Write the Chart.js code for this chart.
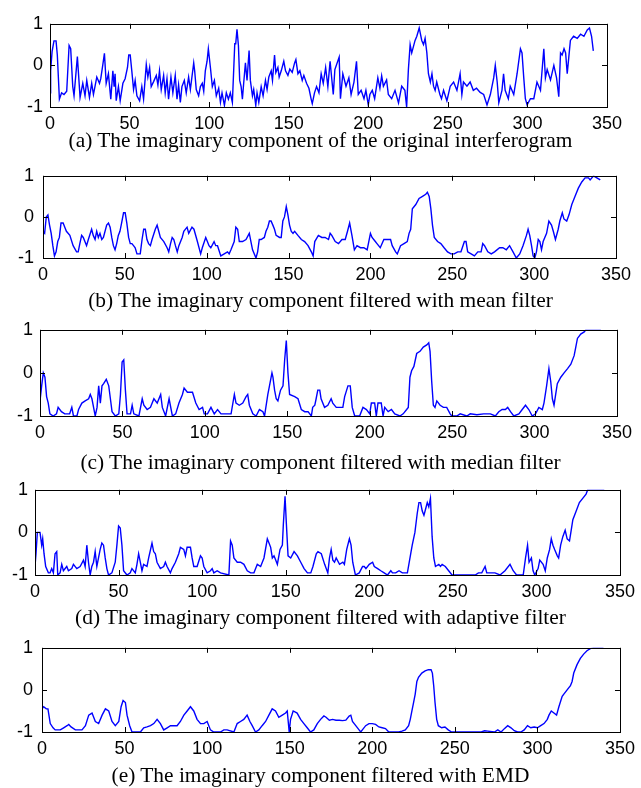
<!DOCTYPE html>
<html>
<head>
<meta charset="utf-8">
<script src="https://cdn.jsdelivr.net/npm/chart.js@4.4.1/dist/chart.umd.min.js"></script>
<style>
html, body { margin: 0; padding: 0; background: #fff; }
#page { position: relative; width: 641px; height: 788px; overflow: hidden; }
.caption { position: absolute; left: 0; width: 641px; text-align: center; line-height: 24px;
  font-family: "Liberation Serif", "Times New Roman", serif; font-size: 21.4px; color: #000; white-space: nowrap; }
</style>
</head>
<body>
<div id="page"></div>
<script>
// tick values shared by all five panels
const xTicks = [0, 50, 100, 150, 200, 250, 300, 350];
const yTicks = [-1, 0, 1];

const captions = [
    '(a) The imaginary component of the original interferogram',
    '(b) The imaginary component filtered with mean filter',
    '(c) The imaginary component filtered with median filter',
    '(d) The imaginary component filtered with adaptive filter',
    '(e) The imaginary component filtered with EMD'
];

// [sample index, value]
const seriesOriginal = [
    [0,-0.66],[0.4,-0.13],[1.3,0.33],[2.5,0.59],[3.8,0.59],[4.6,0.25],[5.9,-0.81],[7.3,-0.66],[8.8,-0.7],[10.5,-0.62],
    [12,0.48],[13,0.4],[14.3,-0.51],[15.1,-0.73],[17.2,0.21],[18.9,-0.77],[20.6,-0.43],[22,-0.73],[23.1,-0.36],[24.8,-0.77],
    [26.2,-0.43],[27.3,-0.7],[29.4,-0.28],[31.1,-0.43],[31.9,-0.32],[33.2,0.02],[34.2,0.29],[35.3,-0.43],[36.7,-0.2],[38.2,-0.81],
    [39.5,-0.13],[40.3,-0.51],[40.9,-0.2],[41.6,-0.85],[43,-0.51],[44.1,-0.85],[45.8,-0.43],[47.2,-0.32],[48.7,-0.05],[49.5,0.25],
    [50.4,0.25],[51.4,-0.13],[52.5,-0.58],[53.5,-0.36],[54.6,-0.73],[56.3,-0.85],[57.7,-0.51],[58.8,-0.81],[60.5,0.02],[61.5,-0.28],
    [62.6,-0.05],[63.6,-0.51],[65.1,-0.39],[66.8,-0.24],[67.8,-0.47],[68.8,-0.13],[69.9,-0.58],[71.4,-0.24],[72.4,-0.66],[73.5,-0.32],
    [74.5,-0.81],[76,-0.28],[77.2,-0.66],[78.7,-0.24],[79.8,-0.81],[80.8,-0.47],[81.9,-0.89],[82.9,-0.51],[84.4,-0.36],[85.6,-0.66],
    [87.1,-0.28],[88.2,-0.58],[90.3,0.06],[90.9,-0.13],[91.9,-0.58],[93.4,-0.73],[94.5,-0.51],[95.7,-0.43],[96.6,-0.62],[97.6,-0.13],
    [98.7,0.1],[99.5,0.4],[100.8,-0.05],[102,-0.51],[103.3,-0.36],[104.5,-0.73],[106,-0.55],[107.1,-0.89],[108.1,-0.66],[109.6,-0.96],
    [110.8,-0.66],[112.1,-0.81],[113.3,-0.66],[114.6,-0.89],[116.1,0.52],[116.7,0.52],[117.5,0.87],[118.4,0.48],[119.2,-0.36],[120.1,-0.51],
    [120.9,-0.81],[121.7,-0.43],[122.8,0.06],[123.8,-0.36],[125.1,0.36],[125.9,-0.36],[127.2,-0.73],[128,-0.58],[129.3,-0.96],[130.1,-0.66],
    [131.2,-0.89],[132.7,-0.51],[133.9,-0.73],[135.4,-0.36],[136.4,-0.58],[137.5,-0.28],[139,-0.13],[139.8,-0.36],[141.1,0.25],[141.9,-0.17],
    [143.2,-0.05],[144,-0.28],[145.3,-0.13],[146.9,0.1],[148,-0.13],[149.5,-0.24],[150.7,-0.09],[152.2,-0.17],[153.7,0.06],[154.5,0.14],
    [155.8,-0.2],[157,-0.13],[158.5,-0.36],[159.5,-0.24],[161.2,-0.43],[162.7,-0.55],[164.1,-0.81],[164.8,-0.92],[166.2,-0.66],[167.5,-0.51],
    [169,-0.66],[170.4,-0.2],[171.7,-0.43],[173.2,-0.05],[174.6,-0.51],[176,0.1],[178,-0.7],[179,-0.1],[181.7,0.2],[182.5,-0.8],
    [184,-0.2],[186,-0.5],[187.8,-0.3],[189.2,-0.7],[191,-0.4],[192.6,0.1],[193.7,-0.7],[195.5,-0.6],[197.3,-0.8],[198.5,-0.6],
    [200,-0.95],[201,-0.7],[202.5,-0.6],[204,-0.8],[206,-0.3],[207.3,-0.55],[208.4,-0.25],[209.5,-0.5],[211.5,-0.35],[212.6,-0.7],
    [214.7,-0.8],[216.8,-0.6],[219,-0.9],[221,-0.5],[223,-0.6],[224.1,-1],[225.2,-0.1],[226.3,0.5],[227.3,0.3],[229.4,0.6],
    [230.5,0.7],[232,0.9],[233.6,0.6],[234.7,0.5],[235.7,0.65],[236.8,0.3],[237.8,-0.2],[239,-0.4],[240,-0.2],[241,-0.5],
    [242,-0.6],[243,-0.4],[245,-0.7],[246,-0.8],[247.3,-0.6],[249.4,-0.85],[251.5,-0.5],[253.6,-0.4],[255.7,-0.6],[257.7,-0.2],
    [258.8,-0.7],[259.8,-0.4],[262,-0.5],[264,-0.4],[266,-0.6],[268,-0.55],[270.3,-0.65],[272.5,-0.7],[274.6,-0.95],[276.7,-0.7],
    [278.8,-0.3],[279.8,0],[281,-0.4],[282,-0.9],[284,-0.6],[285,-0.2],[286,-0.6],[288,-0.8],[289.2,-0.5],[291.4,-0.7],
    [293.5,-0.2],[295.6,0.4],[296.6,0.3],[297.7,-0.3],[298.7,-0.8],[299.8,-0.95],[301.9,-0.8],[304,-0.8],[306,-0.4],[308.2,-0.6],
    [310.3,0.4],[311.3,-0.3],[312.4,-0.1],[314.5,-0.35],[316.6,0],[318.3,-0.3],[319.7,-0.75],[320.8,0.3],[321.8,0.25],[323,0.4],
    [324,0.3],[325,-0.2],[326,0.2],[327,0.6],[329,0.7],[331.3,0.65],[333.4,0.75],[335.5,0.7],[337.6,0.85],[339,0.9],
    [340.3,0.7],[341.4,0.35]
];

const seriesMean = [
    [0,-0.35],[1,-0.4],[2,0],[3,0.05],[4,-0.2],[5,-0.4],[6,-0.7],[7,-0.95],[8,-0.85],[9,-0.6],
    [10,-0.5],[11,-0.15],[12.3,-0.15],[13.3,-0.25],[14.3,-0.35],[16.4,-0.45],[18.4,-0.7],[20.5,-0.85],[21.5,-0.85],[22.5,-0.65],
    [23.6,-0.45],[24.6,-0.5],[25.6,-0.6],[26.6,-0.7],[27.7,-0.55],[29.7,-0.3],[30.7,-0.45],[31.8,-0.55],[32.8,-0.35],[33.8,-0.5],
    [34.8,-0.4],[35.9,-0.55],[36.9,-0.5],[38.9,-0.2],[40,-0.15],[41,-0.25],[42,-0.5],[43,-0.7],[44,-0.8],[45,-0.65],
    [46,-0.45],[47,-0.35],[48,-0.15],[49.2,0.1],[50.2,0.1],[51.2,-0.15],[52.3,-0.5],[53.3,-0.65],[54.3,-0.65],[55.3,-0.7],
    [56.3,-0.75],[57.4,-0.9],[59.4,-0.9],[60.5,-0.55],[61.5,-0.3],[62.5,-0.3],[63.5,-0.55],[64.5,-0.65],[65.6,-0.7],[66.6,-0.55],
    [68.6,-0.3],[69.7,-0.2],[70.7,-0.35],[71.7,-0.5],[73.8,-0.6],[75.8,-0.75],[76.8,-0.85],[77.9,-0.65],[78.9,-0.5],[79.9,-0.55],
    [80.9,-0.7],[82,-0.85],[83,-0.7],[85,-0.5],[86,-0.35],[88,-0.25],[89,-0.4],[91,-0.25],[92.2,-0.3],[94.3,-0.6],
    [96.3,-0.9],[97.3,-0.75],[99.4,-0.5],[100.4,-0.6],[101.4,-0.7],[102.5,-0.75],[104.5,-0.6],[105.5,-0.7],[106.6,-0.7],[108.6,-0.95],
    [110.7,-0.9],[112.7,-0.85],[113.7,-0.9],[114.8,-0.8],[116.8,-0.6],[117.8,-0.25],[118.9,-0.3],[119.9,-0.6],[121.9,-0.6],[124,-0.55],
    [126,-0.4],[127,-0.6],[128,-0.8],[130.1,-1],[131.1,-0.85],[132.1,-0.55],[133.2,-0.55],[135.2,-0.5],[136.2,-0.35],[137.3,-0.25],
    [138.3,-0.1],[139.3,-0.1],[140.4,-0.2],[141.4,-0.3],[142.4,-0.45],[144.5,-0.5],[145.5,-0.5],[146.5,-0.1],[147.5,0],[148.6,0.25],
    [149.6,0.05],[150.6,-0.2],[151.6,-0.35],[152.7,-0.4],[153.7,-0.35],[155.7,-0.45],[157.8,-0.55],[159.8,-0.6],[161.9,-0.7],[163.9,-0.85],
    [165,-0.95],[166,-0.6],[168.2,-0.45],[170.3,-0.5],[172.3,-0.5],[174.4,-0.55],[175.4,-0.4],[176.4,-0.45],[178.5,-0.6],[180.5,-0.65],
    [182.6,-0.55],[184.6,-0.55],[186,-0.35],[187.3,-0.15],[188.7,-0.45],[190.2,-0.8],[191.8,-0.7],[193.9,-0.75],[196,-0.75],[198,-0.8],
    [200,-0.4],[201,-0.5],[203,-0.6],[204,-0.65],[206,-0.75],[208.2,-0.55],[210.2,-0.55],[212.3,-0.55],[213.3,-0.7],[215.4,-0.85],
    [216.4,-0.9],[218.4,-0.7],[220.5,-0.65],[222.5,-0.6],[223.6,-0.4],[224.6,-0.3],[225.6,0.2],[227.7,0.3],[229.7,0.45],[231.8,0.5],
    [233.8,0.55],[234.8,0.6],[235.9,0.5],[236.9,0.2],[237.9,-0.2],[239,-0.5],[241,-0.6],[243,-0.65],[245,-0.75],[247.1,-0.85],
    [249.2,-0.9],[251.2,-0.9],[253.3,-0.85],[255.3,-0.85],[257.4,-0.6],[258.4,-0.6],[259.4,-0.85],[261.5,-0.9],[263.5,-0.95],[265.6,-0.85],
    [267.6,-0.85],[268.6,-0.65],[269.7,-0.7],[271.7,-0.85],[273.8,-0.9],[275.8,-0.85],[278.9,-0.75],[280.9,-0.75],[283,-0.8],[285,-0.7],
    [287.1,-0.85],[289.1,-1],[291.2,-0.9],[293.2,-0.7],[295.3,-0.45],[296.3,-0.3],[297.3,-0.45],[298.4,-0.7],[299.4,-0.95],[300.4,-1],
    [301.4,-0.85],[302.5,-0.55],[303.5,-0.6],[304.5,-0.8],[305.5,-0.6],[307.6,-0.4],[309,-0.1],[310.6,-0.2],[311.7,-0.35],[313,-0.55],
    [314.7,-0.3],[315.7,-0.1],[317.2,0.1],[318.2,-0.05],[319.9,-0.1],[321.3,0.05],[323,0.3],[325,0.5],[327,0.7],[329.1,0.85],
    [331.1,0.95],[333.2,0.95],[334.2,0.9],[336.3,1],[338.3,0.95],[340.4,0.9]
];

const seriesMedian = [
    [0,-0.65],[1,-0.3],[2,0],[3,-0.1],[4,-0.55],[5,-0.7],[6,-0.95],[8,-1],[10,-0.95],[11,-0.8],
    [13,-0.9],[15,-0.95],[18,-0.95],[19.3,-0.8],[20.3,-1],[22.4,-1],[23.4,-0.85],[25.4,-0.7],[27.4,-0.65],[29.5,-0.6],
    [30.5,-0.5],[31.5,-0.6],[32.5,-0.8],[33.5,-1],[34.6,-0.8],[35.6,-0.3],[36.6,-0.7],[37.6,-0.3],[38.6,-0.25],[40.2,-0.15],
    [41.7,-0.3],[42.7,-0.6],[43.7,-0.9],[45.7,-1],[47.8,-0.95],[48.8,-0.5],[49.8,0.25],[50.8,0.3],[51.8,-0.4],[52.8,-0.95],
    [54.9,-0.95],[55.9,-0.75],[56.9,-0.95],[60,-1],[62,-0.6],[63,-0.75],[65,-0.85],[67,-0.8],[69.1,-0.6],[71.1,-0.7],
    [73.2,-0.5],[74.2,-0.8],[76.2,-1],[78.3,-0.6],[80.3,-1],[82.3,-0.95],[84.3,-0.7],[86.4,-0.5],[87.4,-0.35],[89.4,-0.45],
    [92.5,-0.45],[94.5,-0.7],[96.5,-0.85],[98.6,-0.8],[99.6,-0.95],[101.6,-0.95],[103.7,-0.8],[105.7,-0.95],[107.7,-0.85],[109.8,-0.95],
    [115.9,-0.95],[117.9,-0.5],[118.9,-0.7],[120.9,-0.75],[123,-0.7],[125,-0.55],[126,-0.5],[127,-0.75],[129.1,-0.95],[131.1,-1],
    [133.1,-0.85],[135.2,-0.9],[136.2,-1],[138.2,-0.5],[139.2,-0.3],[140.7,0],[141.3,-0.1],[142.3,-0.4],[143.3,-0.6],[144.3,-0.65],
    [145.9,-0.4],[147.4,-0.3],[148.4,0.3],[149.4,0.75],[150.4,0],[151.4,-0.5],[154.5,-0.55],[156.5,-0.6],[158.5,-0.85],[160.6,-0.9],
    [162.6,-0.9],[164.6,-1],[165.4,-0.8],[166.7,-0.75],[167.5,-0.6],[168.5,-0.4],[169.7,-0.4],[170.5,-0.6],[172.6,-0.8],[174.6,-0.75],
    [176.6,-0.6],[177.6,-0.7],[179.7,-0.8],[183.7,-0.8],[184.8,-0.55],[186.8,-0.3],[188.2,-0.3],[189.4,-0.8],[190.9,-1],[193.9,-1],
    [195.9,-0.8],[198,-0.85],[200,-0.95],[201,-0.7],[203,-0.7],[204,-1],[205,-0.7],[207,-0.7],[208.1,-1],[209.1,-0.8],
    [211.2,-0.9],[213.2,-0.85],[215.2,-0.95],[218.3,-1],[220.3,-0.95],[222.4,-0.85],[223.4,-0.8],[224.4,-0.1],[225.4,0.05],[226.8,0.15],
    [228.5,0.45],[230.5,0.5],[232.5,0.6],[234.6,0.65],[235.8,0.7],[236.6,0.5],[237.6,-0.2],[238.6,-0.75],[239.6,-0.8],[240.7,-0.65],
    [242.7,-0.75],[244.7,-0.8],[246.7,-0.8],[248.8,-0.95],[249.8,-1],[252.8,-1],[254.9,-0.95],[258.9,-1],[261,-0.95],[265,-0.97],
    [269.1,-0.95],[273.2,-0.95],[276.2,-1],[278.3,-0.9],[280.3,-0.85],[282.3,-0.85],[283.7,-0.8],[285.4,-0.9],[287.4,-1],[290.5,-0.95],
    [292.5,-0.85],[294.5,-0.75],[296.5,-0.85],[298.6,-1],[300.6,-0.95],[302.6,-0.8],[304.7,-0.85],[305.7,-0.7],[307.3,-0.3],[308.7,0.1],
    [309.8,-0.2],[310.8,-0.6],[311.8,-0.75],[312.8,-0.5],[313.8,-0.25],[315.9,-0.1],[317.9,0],[320,0.1],[322,0.2],[324,0.4],
    [325,0.6],[326,0.8],[328,0.9],[330.1,0.95],[331.1,1],[340.2,1]
];

const seriesAdaptive = [
    [0,-0.8],[0.6,-0.5],[1.4,0],[3,0],[4,-0.3],[4.6,-0.15],[5.4,-0.5],[6.4,-0.8],[8,-0.95],[9,-0.95],
    [10,-0.85],[11,-0.95],[12,-0.5],[13,-0.45],[13.6,-1],[15,-0.95],[16,-0.75],[17,-0.9],[19,-0.8],[20,-0.9],
    [22,-0.85],[23,-0.75],[25,-0.85],[27,-0.8],[29,-0.65],[30,-0.8],[31,-0.3],[32,-0.7],[33,-1],[34,-0.8],
    [35,-0.7],[36,-0.45],[37,-0.8],[38,-0.6],[39,-0.4],[40,-0.25],[41,-0.3],[42,-0.6],[43,-0.85],[44,-1],
    [46,-0.95],[48,-0.7],[49,-0.3],[50,0.15],[51,0.1],[52,-0.3],[53,-0.9],[55,-1],[57,-0.95],[58,-0.85],
    [60,-0.95],[61,-0.75],[62,-0.5],[63,-0.7],[64,-0.9],[65,-0.75],[67,-0.8],[68,-0.6],[70,-0.25],[71,-0.45],
    [72,-0.5],[73,-0.7],[75,-0.85],[77,-0.8],[78,-0.7],[79,-0.8],[81,-0.95],[82,-0.85],[84,-0.7],[86,-0.5],
    [87,-0.35],[89,-0.4],[90,-0.55],[91,-0.35],[93,-0.35],[94,-0.6],[95,-0.8],[97,-0.8],[99,-0.55],[100,-0.6],
    [101,-0.8],[103,-0.95],[105,-0.9],[106,-0.85],[107,-0.95],[109,-0.9],[111,-0.95],[116,-1],[117,-0.2],[118,-0.3],
    [119,-0.6],[121,-0.7],[123,-0.7],[125,-0.75],[127,-0.9],[129,-0.95],[131,-0.95],[133,-0.75],[135,-0.8],[137,-0.6],
    [139,-0.15],[140,-0.25],[141,-0.35],[142,-0.6],[143,-0.55],[144,-0.65],[145,-0.75],[146.6,-0.4],[148,-0.3],[148.6,0.2],
    [149.6,0.85],[150.4,0.2],[151.4,-0.55],[153,-0.6],[155,-0.45],[157,-0.55],[159,-0.7],[161,-0.85],[163,-0.95],[165,-0.95],
    [166.3,-0.8],[168.3,-0.5],[169.3,-0.45],[171.3,-0.5],[173.3,-0.75],[175.2,-0.95],[176.2,-0.6],[177.2,-0.4],[178.2,-0.65],[179.2,-0.7],
    [180.2,-0.6],[182.2,-0.75],[184.2,-0.7],[185.1,-0.75],[186.5,-0.4],[188.1,-0.15],[189.1,-0.3],[190.1,-0.7],[191.7,-1],[194,-0.95],
    [196,-0.8],[197,-0.8],[198,-0.85],[200,-0.75],[202,-0.7],[203,-0.8],[205,-0.85],[206.9,-0.9],[208.9,-0.95],[210.9,-1],
    [212.9,-0.9],[213.9,-0.95],[215.8,-0.95],[217.8,-0.9],[219.8,-0.95],[222.8,-0.95],[224.8,-0.5],[225.7,-0.3],[227.3,0],[228.7,0.45],
    [229.7,0.7],[230.7,0.7],[231.7,0.5],[232.7,0.4],[233.7,0.55],[234.7,0.7],[235.6,0.6],[236.6,0.8],[237.6,-0.1],[238.6,-0.6],
    [239.6,-0.8],[241.6,-0.75],[242.6,-0.8],[243.6,-0.75],[245.5,-0.8],[247.5,-0.9],[249.5,-1],[263.4,-1],[265.3,-0.95],[267.3,-0.95],
    [269.3,-0.8],[270.3,-0.95],[272.3,-0.95],[275.2,-0.95],[278.2,-1],[281.2,-0.9],[284.2,-0.75],[286.1,-0.9],[288.1,-1],[292.1,-1],
    [293.5,-0.6],[294.7,-0.3],[295.6,-0.7],[297,-0.6],[298,-0.9],[299,-1],[301,-0.85],[302,-0.65],[304,-0.75],[305.3,-0.9],
    [306.5,-0.6],[307.9,-0.4],[308.9,-0.15],[309.9,-0.3],[310.9,-0.4],[312.5,-0.55],[313.3,-0.6],[314.5,-0.3],[315.8,-0.1],[317.2,0.05],
    [318.4,-0.15],[319.8,-0.2],[320.8,0.05],[321.8,0.3],[323.8,0.5],[325.7,0.7],[327.7,0.8],[329.7,0.9],[330.7,1],[340.6,1]
];

const seriesEmd = [
    [0,-0.45],[1,-0.4],[2.6,-0.45],[3.6,-0.45],[5,-0.8],[6.7,-0.9],[8,-0.95],[11.1,-0.95],[13.1,-0.9],[15.2,-0.85],
    [16.2,-0.82],[17.6,-0.88],[20.2,-0.95],[24.2,-0.95],[26.3,-0.85],[28.3,-0.6],[30.3,-0.55],[32.3,-0.75],[34.3,-0.8],[36.4,-0.6],
    [38.4,-0.45],[40.4,-0.5],[42.4,-0.75],[44.4,-0.85],[46.5,-0.75],[47.9,-0.4],[49.1,-0.25],[50.5,-0.3],[51.5,-0.6],[53.1,-0.85],
    [54.5,-1],[59.6,-1],[61.6,-0.9],[63.6,-0.88],[65.7,-0.85],[67.7,-0.8],[69.7,-0.7],[71.7,-0.8],[73.7,-0.95],[75.8,-0.9],
    [77.8,-0.85],[81.8,-0.85],[83.8,-0.75],[85.9,-0.6],[87.9,-0.5],[89.9,-0.4],[91.9,-0.5],[93.9,-0.7],[96,-0.8],[98,-0.8],
    [100,-0.75],[102,-0.95],[104,-1],[108.1,-1],[110.1,-0.95],[112.1,-0.95],[116.2,-1],[118.2,-0.8],[120.2,-0.75],[122.2,-0.7],
    [124.2,-0.6],[125.9,-0.75],[127.3,-0.85],[129.3,-1],[131.3,-0.95],[133.3,-0.85],[135.4,-0.75],[137.4,-0.6],[139.4,-0.45],[141.4,-0.5],
    [143.4,-0.65],[145.5,-0.6],[147.5,-0.55],[148.5,-0.5],[149.7,-1],[150.5,-0.7],[152.1,-0.5],[154.5,-0.55],[156.6,-0.7],[158.6,-0.8],
    [160.6,-0.9],[162.6,-1],[164.6,-0.95],[166.7,-0.8],[168.7,-0.7],[170.7,-0.62],[172,-0.65],[174,-0.72],[176,-0.7],[178,-0.72],
    [180,-0.72],[182,-0.73],[184,-0.72],[186,-0.62],[187,-0.6],[188,-0.75],[190,-0.85],[192,-0.95],[193,-1],[194,-0.95],
    [196,-0.85],[198,-0.8],[200,-0.8],[202,-0.82],[204,-0.88],[206,-0.9],[208,-0.92],[210,-1],[216,-1],[218,-0.98],
    [220,-0.95],[222,-0.85],[223,-0.7],[224,-0.5],[225,-0.3],[226,-0.1],[227,0.2],[228,0.3],[230,0.4],[232,0.45],
    [234,0.48],[235.6,0.48],[236.4,0.4],[237.2,0.1],[238,-0.3],[239,-0.7],[240,-0.85],[242,-0.9],[244,-0.88],[246,-0.95],
    [248,-1],[266,-1],[268,-0.97],[270,-0.98],[274,-1],[276,-0.95],[278,-1],[280,-0.92],[282,-0.85],[284,-0.9],
    [286,-0.97],[288,-1],[290,-1],[292,-0.95],[294,-0.85],[296,-0.9],[298,-0.88],[300,-0.9],[302,-0.85],[304,-0.8],
    [306,-0.7],[307,-0.6],[308.4,-0.5],[310,-0.55],[311.6,-0.6],[313,-0.4],[315,-0.15],[316,-0.1],[318,0],[320,0.1],
    [321,0.2],[322,0.4],[324,0.6],[326,0.75],[328,0.85],[330,0.93],[332,0.98],[334,1],[340,1]
];

// plot box edges (page px), y label gap and caption centre for each panel
const panels = [
    { data: seriesOriginal, left: 50, top: 18,  right: 607, bottom: 107, yPad: 7, capY: 140 },
    { data: seriesMean,     left: 43, top: 168, right: 616, bottom: 258, yPad: 9, capY: 300 },
    { data: seriesMedian,   left: 40, top: 324, right: 617, bottom: 416, yPad: 7, capY: 462 },
    { data: seriesAdaptive, left: 35, top: 484, right: 623, bottom: 575, yPad: 7, capY: 617 },
    { data: seriesEmd,      left: 42, top: 640, right: 623, bottom: 732, yPad: 9, capY: 775 }
];

// matlab-like box with inward tick marks on all four sides
const framePlugin = {
    id: 'frame',
    afterDraw(chart) {
        const ctx = chart.ctx, a = chart.chartArea;
        const xs = chart.scales.x, ys = chart.scales.y;
        const tl = 5;
        ctx.save();
        ctx.strokeStyle = '#000';
        ctx.lineWidth = 1;
        ctx.strokeRect(Math.round(a.left) + 0.5, Math.round(a.top) + 0.5,
            Math.round(a.right - a.left), Math.round(a.bottom - a.top));
        ctx.beginPath();
        xTicks.forEach(v => {
            const px = Math.round(xs.getPixelForValue(v)) + 0.5;
            ctx.moveTo(px, a.bottom); ctx.lineTo(px, a.bottom - tl);
            ctx.moveTo(px, a.top); ctx.lineTo(px, a.top + tl);
        });
        yTicks.forEach(v => {
            const py = Math.round(ys.getPixelForValue(v)) + 0.5;
            ctx.moveTo(a.left, py); ctx.lineTo(a.left + tl, py);
            ctx.moveTo(a.right, py); ctx.lineTo(a.right - tl, py);
        });
        ctx.stroke();
        ctx.restore();
    }
};

const tickFont = { family: '"Liberation Sans", Arial, sans-serif', size: 18 };

function makePanel(p, caption) {
    const page = document.getElementById('page');
    const padTop = 12, axisH = 32;
    const canvasTop = p.top - padTop;
    const h = p.bottom - canvasTop + axisH;

    const canvas = document.createElement('canvas');
    canvas.width = 641;
    canvas.height = h;
    canvas.style.cssText = 'position:absolute;left:0;top:' + canvasTop + 'px;width:641px;height:' + h + 'px';
    page.appendChild(canvas);

    new Chart(canvas.getContext('2d'), {
        type: 'line',
        data: {
            datasets: [{
                data: p.data.map(d => ({ x: d[0], y: d[1] })),
                borderColor: '#0000ff', borderWidth: 1.4, pointRadius: 0, tension: 0, fill: false
            }]
        },
        options: {
            responsive: false, animation: false, devicePixelRatio: 1,
            layout: { padding: { left: 0, right: 641 - p.right, top: padTop, bottom: 0 } },
            plugins: { legend: { display: false }, tooltip: { enabled: false } },
            scales: {
                x: {
                    type: 'linear', min: 0, max: 350,
                    afterBuildTicks: s => { s.ticks = xTicks.map(v => ({ value: v })); },
                    afterFit: s => { s.height = axisH; },
                    grid: { display: false, drawTicks: false }, border: { display: false },
                    ticks: { font: tickFont, color: '#000', padding: 6, maxRotation: 0, autoSkip: false }
                },
                y: {
                    type: 'linear', min: -1, max: 1,
                    afterBuildTicks: s => { s.ticks = yTicks.map(v => ({ value: v })); },
                    afterFit: s => { s.width = p.left; },
                    grid: { display: false, drawTicks: false }, border: { display: false },
                    ticks: { font: tickFont, color: '#000', padding: p.yPad }
                }
            }
        },
        plugins: [framePlugin]
    });

    const cap = document.createElement('div');
    cap.className = 'caption';
    cap.style.top = (p.capY - 12) + 'px';
    cap.textContent = caption;
    page.appendChild(cap);
}

panels.forEach((p, i) => makePanel(p, captions[i]));
</script>
</body>
</html>
